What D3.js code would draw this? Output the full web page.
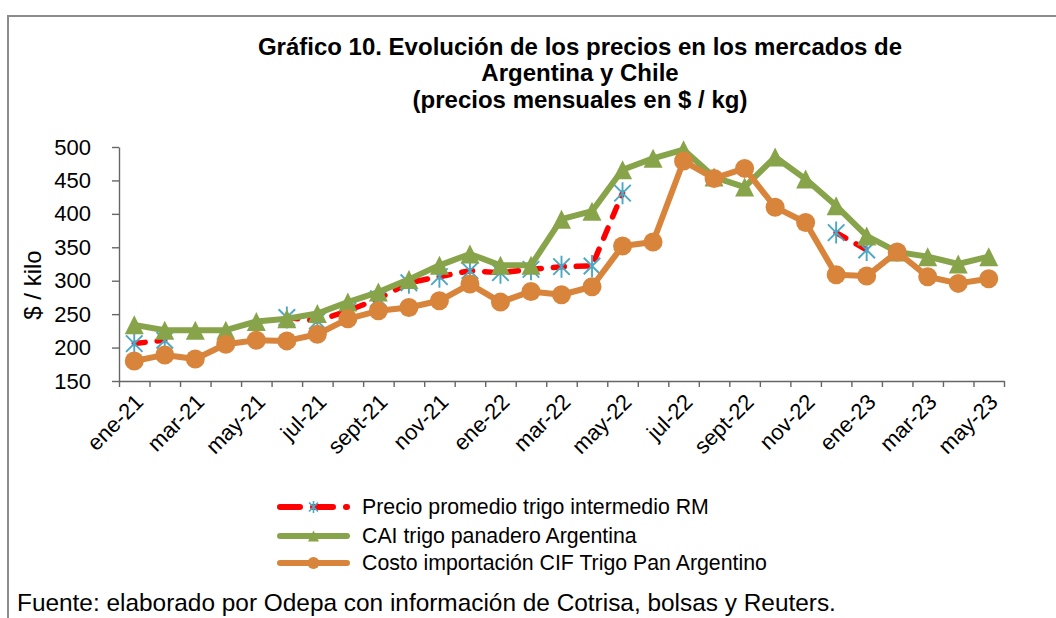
<!DOCTYPE html>
<html>
<head>
<meta charset="utf-8">
<script src="https://cdn.jsdelivr.net/npm/d3@7"></script>
<style>
    body { margin: 0; background: #fff; }
    svg text { font-family: "Liberation Sans", Arial, sans-serif; fill: #000; }
</style>
</head>
<body>
<div id="chart"></div>
<script>
// months ene-21 .. may-23
var categories = ["ene-21", "feb-21", "mar-21", "abr-21", "may-21", "jun-21", "jul-21", "ago-21", "sept-21", "oct-21", "nov-21", "dic-21",
    "ene-22", "feb-22", "mar-22", "abr-22", "may-22", "jun-22", "jul-22", "ago-22", "sept-22", "oct-22", "nov-22", "dic-22",
    "ene-23", "feb-23", "mar-23", "abr-23", "may-23"];

var precioRM = [206, 211, null, null, null, 245, 240, 255, 273, 297, 306, 315, 312, 317, 321, 322, 431,
    null, null, null, null, null, null, 372, 346, null, null, null, null];

var caiArgentina = [234, 226, 226, 226, 239, 243, 251, 268, 283, 302, 323, 340, 323, 323, 392, 404, 466,
    483, 496, 455, 440, 485, 452, 412, 367, 343, 336, 325, 336];

var costoCIF = [180, 189, 183, 205, 211, 210, 220, 243, 255, 260, 270, 295, 268, 284, 279, 291, 352,
    358, 479, 453, 468, 410, 387, 309, 307, 343, 306, 296, 303];

var yTicks = [150, 200, 250, 300, 350, 400, 450, 500];

var seriesNames = ["Precio promedio trigo intermedio RM", "CAI trigo panadero Argentina", "Costo importación CIF Trigo Pan Argentino"];

var titleLines = ["Gráfico 10. Evolución de los precios en los mercados de", "Argentina y Chile", "(precios mensuales en $ / kg)"];

var W = 1056, H = 618,
    plotLeft = 119, plotRight = 1004, plotTop = 147, plotBottom = 381,
    red = "#ff0000", blue = "#4aa8c4", green = "#87a44a", orange = "#d8843b";

var svg = d3.select("#chart").append("svg")
    .attr("width", W)
    .attr("height", H);

// chart frame (only top and left edges are visible in the picture)
svg.append("path")
    .attr("d", "M8," + H + "V16H" + W)
    .attr("fill", "none")
    .attr("stroke", "#8c8c8c")
    .attr("stroke-width", 2);

var x = d3.scaleBand().domain(categories).range([plotLeft, plotRight]).padding(0);
var xTick = d3.scaleLinear().domain([0, categories.length]).range([plotLeft, plotRight]);
var y = d3.scaleLinear().domain([150, 500]).range([plotBottom, plotTop]);

var cx = function (d, i) { return x(categories[i]) + x.bandwidth() / 2; };

// title
svg.append("g").selectAll("text")
    .data(titleLines)
    .enter()
    .append("text")
    .attr("x", 580)
    .attr("y", function (d, i) { return [55, 81, 108][i]; })
    .attr("text-anchor", "middle")
    .attr("font-size", 24)
    .attr("font-weight", "bold")
    .text(function (d) { return d; });

// y axis
var yAxis = svg.append("g")
    .attr("transform", "translate(" + plotLeft + ",0)")
    .call(d3.axisLeft(y).tickValues(yTicks).tickSize(7).tickSizeOuter(0).tickPadding(21));
yAxis.select(".domain").attr("stroke", "#666").attr("stroke-width", 1.4);
yAxis.selectAll(".tick line").attr("stroke", "#666").attr("stroke-width", 1.4);
yAxis.selectAll(".tick text")
    .attr("font-size", 22)
    .attr("font-family", "Liberation Sans, Arial, sans-serif")
    .attr("fill", "#000");

svg.append("text")
    .attr("transform", "translate(41,285) rotate(-90)")
    .attr("text-anchor", "middle")
    .attr("font-size", 24)
    .text("$ / kilo");

// x axis: ticks on the category boundaries
var xAxis = svg.append("g")
    .attr("transform", "translate(0," + plotBottom + ")")
    .call(d3.axisBottom(xTick).tickValues(d3.range(categories.length + 1)).tickSize(6).tickSizeOuter(0).tickFormat(""));
xAxis.select(".domain").attr("stroke", "#666").attr("stroke-width", 1.4);
xAxis.selectAll(".tick line").attr("stroke", "#666").attr("stroke-width", 1.4);

svg.append("g").selectAll("text")
    .data(categories.filter(function (d, i) { return i % 2 === 0; }))
    .enter()
    .append("text")
    .attr("transform", function (d) { return "translate(" + (x(d) + x.bandwidth() / 2 + 5) + "," + (plotBottom + 17) + ") rotate(-45)"; })
    .attr("text-anchor", "end")
    .attr("dy", "0.35em")
    .attr("font-size", 22)
    .text(function (d) { return d; });

// series 1: red dashed with asterisks
var plot = svg.append("g");

var lineGen = d3.line()
    .defined(function (d) { return d != null; })
    .x(cx)
    .y(function (d) { return y(d); });

plot.append("path")
    .datum(precioRM)
    .attr("d", lineGen)
    .attr("fill", "none")
    .attr("stroke", red)
    .attr("stroke-width", 5.5)
    .attr("stroke-linecap", "round")
    .attr("stroke-dasharray", "11 12");

var asterisk = function (r) {
    var a = r * 0.75;
    return "M" + (-a) + "," + (-a) + "L" + a + "," + a +
        "M" + (-a) + "," + a + "L" + a + "," + (-a) +
        "M0," + (-r) + "V" + r;
};

plot.append("g").selectAll("path")
    .data(precioRM.map(function (v, i) { return { v: v, i: i }; }).filter(function (d) { return d.v != null; }))
    .enter()
    .append("path")
    .attr("transform", function (d) { return "translate(" + cx(d.v, d.i) + "," + y(d.v) + ")"; })
    .attr("d", asterisk(11))
    .attr("fill", "none")
    .attr("stroke", blue)
    .attr("stroke-width", 1.9);

// series 2: green with triangles
plot.append("path")
    .datum(caiArgentina)
    .attr("d", lineGen)
    .attr("fill", "none")
    .attr("stroke", green)
    .attr("stroke-width", 6)
    .attr("stroke-linejoin", "round");

var triangle = function (s) {
    return "M0," + (-s / 2) + "L" + (s / 2) + "," + (s / 2) + "L" + (-s / 2) + "," + (s / 2) + "Z";
};

plot.append("g").selectAll("path")
    .data(caiArgentina)
    .enter()
    .append("path")
    .attr("transform", function (d, i) { return "translate(" + cx(d, i) + "," + y(d) + ")"; })
    .attr("d", triangle(19))
    .attr("fill", green);

// series 3: orange with circles
plot.append("path")
    .datum(costoCIF)
    .attr("d", lineGen)
    .attr("fill", "none")
    .attr("stroke", orange)
    .attr("stroke-width", 6)
    .attr("stroke-linejoin", "round");

plot.append("g").selectAll("circle")
    .data(costoCIF)
    .enter()
    .append("circle")
    .attr("cx", cx)
    .attr("cy", function (d) { return y(d); })
    .attr("r", 9.5)
    .attr("fill", orange);

// legend
var legend = svg.append("g").attr("transform", "translate(280,0)");
var rowY = [507, 536, 563],
    sampleLen = 67,
    mid = sampleLen / 2;

legend.append("path")
    .attr("d", "M0," + rowY[0] + "H" + sampleLen)
    .attr("stroke", red)
    .attr("stroke-width", 6)
    .attr("stroke-linecap", "round")
    .attr("stroke-dasharray", "20 13");
legend.append("path")
    .attr("transform", "translate(" + mid + "," + rowY[0] + ")")
    .attr("d", asterisk(6))
    .attr("fill", "none")
    .attr("stroke", blue)
    .attr("stroke-width", 1.6);

legend.append("path")
    .attr("d", "M0," + rowY[1] + "H" + sampleLen)
    .attr("stroke", green)
    .attr("stroke-width", 6)
    .attr("stroke-linecap", "round");
legend.append("path")
    .attr("transform", "translate(" + mid + "," + rowY[1] + ")")
    .attr("d", triangle(11))
    .attr("fill", green);

legend.append("path")
    .attr("d", "M0," + rowY[2] + "H" + sampleLen)
    .attr("stroke", orange)
    .attr("stroke-width", 6)
    .attr("stroke-linecap", "round");
legend.append("circle")
    .attr("cx", mid)
    .attr("cy", rowY[2])
    .attr("r", 6)
    .attr("fill", orange);

legend.selectAll("text")
    .data(seriesNames)
    .enter()
    .append("text")
    .attr("x", 82)
    .attr("y", function (d, i) { return rowY[i]; })
    .attr("dy", "0.35em")
    .attr("font-size", 21.3)
    .text(function (d) { return d; });

// source note
svg.append("text")
    .attr("x", 17)
    .attr("y", 611)
    .attr("font-size", 24.4)
    .text("Fuente: elaborado por Odepa con información de Cotrisa, bolsas y Reuters.");
</script>
</body>
</html>
